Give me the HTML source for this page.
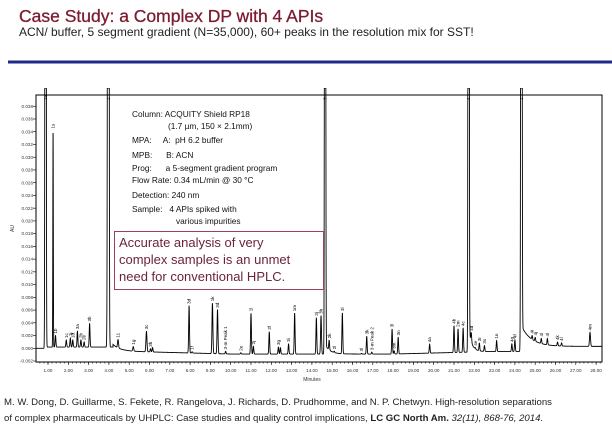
<!DOCTYPE html>
<html><head><meta charset="utf-8"><style>
html,body{margin:0;padding:0;background:#fff;width:612px;height:432px;overflow:hidden;font-family:"Liberation Sans",sans-serif}
</style></head><body>
<svg id="s" width="612" height="432" xmlns="http://www.w3.org/2000/svg" font-family="Liberation Sans, sans-serif">
<text x="19" y="22" font-size="17.5" fill="#7b1b30" stroke="#7b1b30" stroke-width="0.3">Case Study: a Complex DP with 4 APIs</text>
<text x="19" y="36" font-size="12" fill="#222">ACN/ buffer, 5 segment gradient (N=35,000), 60+ peaks in the resolution mix for SST!</text>
<rect x="8" y="60.5" width="604" height="3" fill="#1f2a8a"/>
<rect x="36" y="95" width="566" height="267" fill="none" stroke="#000" stroke-width="1"/>
<g id="ax" font-size="4.6" fill="#333"></g>
<text x="14" y="232" font-size="5" fill="#333" transform="rotate(-90 14 232)">AU</text>
<text x="312" y="381" font-size="5" fill="#333" text-anchor="middle">Minutes</text>
<clipPath id="c"><rect x="36" y="88" width="566" height="274"/></clipPath>
<path id="p" clip-path="url(#c)" fill="none" stroke="#000" stroke-width="0.9"/>
<g id="lb" font-size="4.5" fill="#000"></g>
<g font-size="8.3" fill="#111">
<text x="132" y="117">Column: ACQUITY Shield RP18</text>
<text x="168" y="129">(1.7 µm, 150 × 2.1mm)</text>
<text x="132" y="143">MPA:&#160;&#160;&#160;&#160; A:&#160; pH 6.2 buffer</text>
<text x="132" y="158">MPB:&#160;&#160;&#160;&#160;&#160; B: ACN</text>
<text x="132" y="171">Prog:&#160;&#160;&#160;&#160;&#160; a 5-segment gradient program</text>
<text x="132" y="183">Flow Rate: 0.34 mL/min @ 30 °C</text>
<text x="132" y="198">Detection: 240 nm</text>
<text x="132" y="212">Sample:&#160;&#160; 4 APIs spiked with</text>
<text x="176" y="224">various impurities</text>
</g>
<rect x="114.5" y="231.5" width="209" height="58" fill="#fff" stroke="#9b4060" stroke-width="1"/>
<g font-size="13" fill="#6b2438">
<text x="119" y="247">Accurate analysis of very</text>
<text x="119" y="264">complex samples is an unmet</text>
<text x="119" y="281">need for conventional HPLC.</text>
</g>
<g font-size="9.6" fill="#222">
<text x="4" y="405">M. W. Dong, D. Guillarme, S. Fekete, R. Rangelova, J. Richards, D. Prudhomme, and N. P. Chetwyn. High-resolution separations</text>
<text x="4" y="421">of complex pharmaceuticals by UHPLC: Case studies and quality control implications, <tspan font-weight="bold">LC GC North Am.</tspan> <tspan font-style="italic">32(11), 868-76, 2014.</tspan></text>
</g>
</svg>
<script>
var NS="http://www.w3.org/2000/svg";
function X(t){return 27.7+20.3*t}
function Y(v){return 348.3-v/0.002*12.74}
var ax=document.getElementById('ax');
function T(g,x,y,s,a,rot){var e=document.createElementNS(NS,'text');e.setAttribute('x',x);e.setAttribute('y',y);if(a)e.setAttribute('text-anchor',a);if(rot)e.setAttribute('transform','rotate(-90 '+x+' '+y+')');e.textContent=s;g.appendChild(e);}
function L(g,x1,y1,x2,y2){var e=document.createElementNS(NS,'line');e.setAttribute('x1',x1);e.setAttribute('y1',y1);e.setAttribute('x2',x2);e.setAttribute('y2',y2);e.setAttribute('stroke','#000');e.setAttribute('stroke-width','0.6');g.appendChild(e);}
for(var i=-1;i<=19;i++){var v=i*0.002,y=Y(v);L(ax,33,y,36,y);T(ax,33,y+1.6,v.toFixed(3),'end');}
for(var t=1;t<=28;t++){L(ax,X(t),362,X(t),365);T(ax,X(t),372,t.toFixed(2),'middle');}
for(var t=0.6;t<28.3;t+=0.2){L(ax,X(t),362,X(t),363.5);}
function base(t){
 if(t<0.85)return 0;
 if(t<4.2)return 0.0002;
 if(t<14.7)return 0.0016*Math.exp(-(t-4.05)/0.35)+ (-0.0004-0.0005*Math.min(1,(t-4)/6));
 if(t<21.7)return -0.0009+0.0012*Math.exp(-(t-14.7)/0.25)+0.0003*Math.max(0,(t-18)/3.7);
 if(t<24.3)return -0.0005+0.003*Math.exp(-(t-21.75)/0.15);
 return 0.0003+0.003*Math.exp(-(t-24.35)/0.5);
}
var P=[[0.88,0.3,0.02,'1a'],[1.25,0.034,0.012,'1s'],[1.37,0.0018,0.02,'1b'],[1.9,0.0011,0.02,'1c'],[2.1,0.0014,0.02,'1j'],[2.22,0.0011,0.02,'1d'],[2.45,0.0025,0.02,'3a'],[2.62,0.0011,0.02,'2b'],[2.78,0.0008,0.02,'2e'],[3.05,0.0037,0.02,'3b'],[3.97,0.3,0.025,'2'],
[4.45,0.0013,0.025,'11'],[5.2,0.0007,0.025,'1g'],[5.85,0.0032,0.025,'3c'],[6.05,0.0005,0.02,'3h'],[6.15,0.0007,0.02,''],[7.95,0.0074,0.02,'3d'],[8.1,0.0002,0.02,'1f'],[9.1,0.0079,0.022,'1k'],[9.35,0.0069,0.022,'3d'],[9.75,0.0004,0.02,'3-m Peak 1'],[10.5,0.0002,0.02,'2e'],
[11.0,0.0064,0.02,'1l'],[11.12,0.0012,0.02,'2j'],[11.9,0.0035,0.02,'3f'],[12.35,0.0011,0.02,'3g'],[12.45,0.001,0.02,''],[12.85,0.0016,0.02,'3i'],[13.15,0.0064,0.02,'1m'],[14.22,0.0057,0.02,'3j'],[14.45,0.006,0.022,'3h'],[14.65,0.3,0.02,'3'],[14.85,0.0015,0.02,'2k'],[15.1,0.0002,0.02,'2l'],[15.5,0.0064,0.02,'3l'],
[16.45,0.0001,0.02,'3l'],[16.7,0.0028,0.02,'3k'],[16.95,0.0003,0.02,'3-m Peak 2'],[17.95,0.0039,0.02,'3l'],[18.05,0.0005,0.02,'3m'],[18.25,0.0026,0.02,'3n'],[19.8,0.0014,0.02,'4a'],[21.0,0.0042,0.02,'4b'],[21.2,0.0037,0.02,'2m'],[21.45,0.0038,0.02,'4c'],[21.72,0.3,0.02,'4'],[21.85,0.0014,0.02,'4d'],[22.05,0.0002,0.02,'4e'],[22.25,0.0012,0.02,'3r'],[22.5,0.0009,0.02,'3s'],[23.1,0.0017,0.02,'1n'],
[23.85,0.0012,0.02,'4g'],[24.0,0.0018,0.02,'4f'],[24.32,0.3,0.022,'1'],[24.85,0.0006,0.02,'4i'],[25.0,0.0006,0.02,'4j'],[25.3,0.0008,0.02,'4l'],[25.6,0.001,0.02,'4l'],[26.1,0.0006,0.02,'4k'],[26.3,0.0005,0.02,'4l'],[27.7,0.0022,0.025,'4m']];
var d='';
for(var t=0.3;t<=28.35;t+=0.004){var v=base(t);for(var k=0;k<P.length;k++){var u=(t-P[k][0])/P[k][2];if(Math.abs(u)<6)v+=P[k][1]*Math.exp(-u*u/2);}
 var y=Y(v);if(y<88)y=88;d+=(d?'L':'M')+X(t).toFixed(2)+' '+y.toFixed(2);}
document.getElementById('p').setAttribute('d',d);
var lb=document.getElementById('lb');
for(var k=0;k<P.length;k++){if(!P[k][3])continue;var t=P[k][0],v=base(t)+P[k][1];var y=Y(v)-2;if(y<100)y=100;T(lb,X(t)+1.6,y,P[k][3],'start',true);}
</script>
</body></html>
